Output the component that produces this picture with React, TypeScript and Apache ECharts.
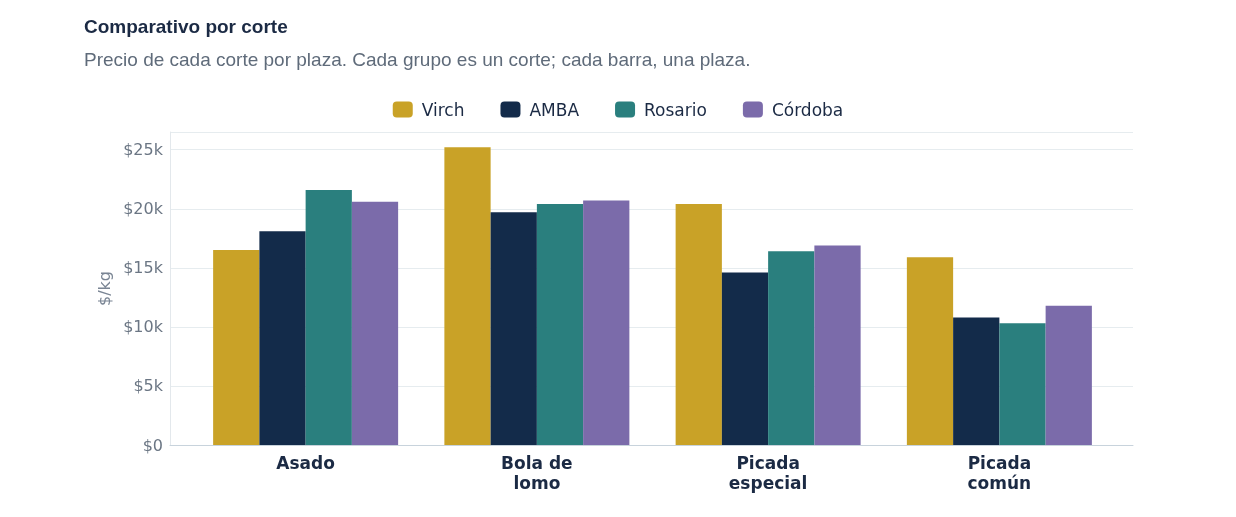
import React, { useEffect, useRef } from "react";
import * as echarts from "echarts";

const categories = ["Asado", "Bola de\nlomo", "Picada\nespecial", "Picada\ncomún"];
const virch = [16500, 25200, 20400, 15900];
const amba = [18100, 19700, 14600, 10800];
const rosario = [21600, 20400, 16400, 10300];
const cordoba = [20600, 20700, 16900, 11800];
const seriesNames = ["Virch", "AMBA", "Rosario", "Córdoba"];
const colors = ["#C9A227", "#132B4A", "#2A7F7E", "#7B6BAA"];

export default function App() {
  const ref = useRef<HTMLDivElement>(null);
  useEffect(() => {
    const chart = echarts.init(ref.current!, null, { renderer: "svg" });
    const font = "Liberation Sans, Arial, sans-serif";
    const data = [virch, amba, rosario, cordoba];
    const yMax = 26500;
    chart.setOption({
      animation: false,
      textStyle: { fontFamily: "DejaVu Sans, sans-serif" },
      title: {
        text: "Comparativo por corte",
        subtext: "Precio de cada corte por plaza. Cada grupo es un corte; cada barra, una plaza.",
        left: 79,
        top: 12,
        itemGap: 14,
        textStyle: { fontFamily: font, fontSize: 19, fontWeight: "bold", color: "#1B2A44" },
        subtextStyle: { fontFamily: font, fontSize: 19, color: "#5F6B7A" },
      },
      legend: {
        top: 96,
        left: "center",
        itemWidth: 20,
        itemHeight: 16,
        itemGap: 36,
        textStyle: { fontSize: 17, color: "#1B2A44", padding: [0, 0, 0, 4] },
        data: seriesNames,
      },
      grid: [
        { left: 170, right: 103, top: 132, bottom: 72 },
        { left: 190, right: 121, top: 132, bottom: 72 },
      ],
      xAxis: [
        {
          type: "category",
          gridIndex: 0,
          data: categories,
          axisTick: { show: false },
          axisLabel: { show: false },
          axisLine: { lineStyle: { color: "#C8D3DC" } },
        },
        {
          type: "category",
          gridIndex: 1,
          data: categories,
          axisTick: { show: false },
          axisLine: { show: false },
          axisLabel: { fontSize: 17, fontWeight: "bold", color: "#1B2A44", lineHeight: 20, margin: 8 },
        },
      ],
      yAxis: [
        {
          type: "value",
          gridIndex: 0,
          min: 0,
          max: yMax,
          interval: 5000,
          name: "$/kg",
          nameLocation: "middle",
          nameGap: 58,
          nameTextStyle: { fontSize: 16, color: "#7A8594" },
          axisLine: { show: true, lineStyle: { color: "#E3E8EC" } },
          axisTick: { show: false },
          splitLine: { lineStyle: { color: "#E6ECEF" } },
          axisLabel: {
            fontSize: 16,
            color: "#6B7684",
            margin: 7,
            formatter: (v: number) => (v > 25000 ? "" : v === 0 ? "$0" : "$" + v / 1000 + "k"),
          },
        },
        { type: "value", gridIndex: 1, min: 0, max: yMax, show: false, splitLine: { show: false } },
      ],
      series: seriesNames.map((n, i) => ({
        name: n,
        type: "bar",
        xAxisIndex: 1,
        yAxisIndex: 1,
        data: data[i],
        itemStyle: { color: colors[i] },
        barGap: "0%",
        barCategoryGap: "20%",
      })),
    });
    return () => chart.dispose();
  }, []);
  return <div ref={ref} style={{ position: "fixed", left: 0, top: 0, width: 1236, height: 517 }} />;
}
